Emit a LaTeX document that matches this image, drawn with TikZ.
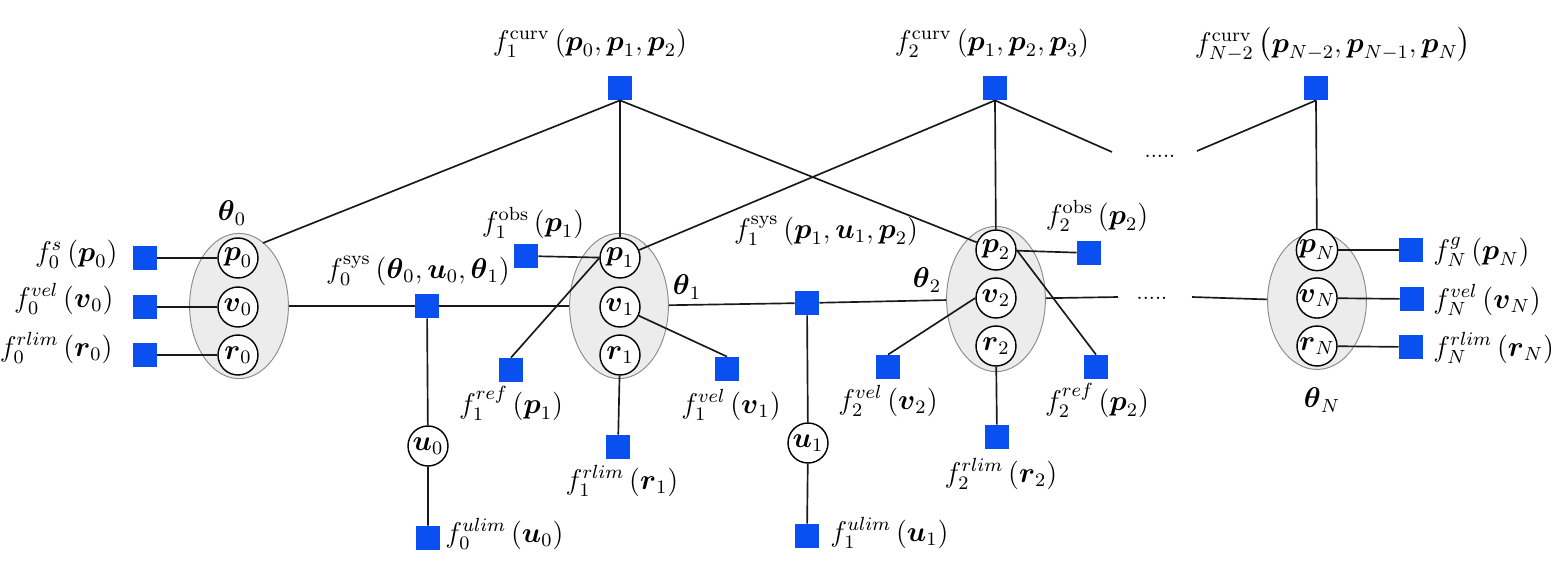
\documentclass[tikz,border=0pt]{standalone}
\usepackage{amsmath,amssymb}
\usetikzlibrary{shapes.geometric}
\definecolor{facblue}{RGB}{10,80,240}
\definecolor{ellfill}{RGB}{236,236,236}
\definecolor{ellline}{RGB}{140,140,140}
\newcommand{\bv}[1]{\boldsymbol{#1}}
\begin{document}
\begin{tikzpicture}[x=0.42pt,y=-0.42pt,
  every node/.style={font=\fontsize{12}{14}\selectfont},
  fac/.style={rectangle,fill=facblue,minimum size=10pt,inner sep=0pt},
  var/.style={circle,draw=black,line width=0.6pt,fill=white,minimum size=16.8pt,inner sep=0pt},
  grp/.style={ellipse,draw=ellline,line width=0.4pt,fill=ellfill,minimum width=41.5pt,minimum height=61pt,inner sep=0pt},
  conn/.style={draw=black!90,line width=0.7pt},
  lbl/.style={inner sep=0pt},
  dotsnode/.style={inner sep=0pt,font=\small}]
\useasboundingbox (0,0) rectangle (1555,574);
% groups
\node[grp] (th0) at (239,306) {};
\node[grp] (th1) at (619,306) {};
\node[grp] (th2) at (996,299) {};
\node[grp,minimum height=57.5pt] (thN) at (1317,301) {};
% variables
\node[var] (p0) at (238,258) {$\bv{p}_0$};
\node[var] (v0) at (238,307) {$\bv{v}_0$};
\node[var] (r0) at (238,355) {$\bv{r}_0$};
\node[var] (p1) at (620,258) {$\bv{p}_1$};
\node[var] (v1) at (620,307) {$\bv{v}_1$};
\node[var] (r1) at (620,355) {$\bv{r}_1$};
\node[var] (p2) at (996,250) {$\bv{p}_2$};
\node[var] (v2) at (996,298) {$\bv{v}_2$};
\node[var] (r2) at (996,346) {$\bv{r}_2$};
\node[var] (pN) at (1317,250) {$\bv{p}_N$};
\node[var] (vN) at (1317,298) {$\bv{v}_N$};
\node[var] (rN) at (1317,346) {$\bv{r}_N$};
\node[var] (u0) at (428,446) {$\bv{u}_0$};
\node[var] (u1) at (808,443) {$\bv{u}_1$};
% factors
\node[fac] (f0s) at (145,258) {};
\node[fac] (f0vel) at (145,307) {};
\node[fac] (f0rlim) at (145,355) {};
\node[fac] (f0sys) at (427,306) {};
\node[fac] (f0ulim) at (428,538) {};
\node[fac] (f1obs) at (526,256) {};
\node[fac] (f1ref) at (511,370) {};
\node[fac] (f1rlim) at (618,447) {};
\node[fac] (f1vel) at (727,369) {};
\node[fac] (f1sys) at (807,303) {};
\node[fac] (f1ulim) at (807,536) {};
\node[fac] (f2obs) at (1089,253) {};
\node[fac] (f2vel) at (888,367) {};
\node[fac] (f2ref) at (1096,367) {};
\node[fac] (f2rlim) at (997,437) {};
\node[fac] (fNg) at (1411,250) {};
\node[fac] (fNvel) at (1412,299) {};
\node[fac] (fNrlim) at (1411,347) {};
\node[fac] (f1c) at (620,88) {};
\node[fac] (f2c) at (995,88) {};
\node[fac] (fNc) at (1316,88) {};
% dots
\node[dotsnode,anchor=base] (dtop) at (1160,157) {.....};
\node[dotsnode,anchor=base] (dmid) at (1152,299) {.....};
\coordinate (e0) at (263,243);
\coordinate (a1) at (1112,152);
\coordinate (a2) at (1197,151);
\coordinate (b1) at (1118,297);
\coordinate (b2) at (1192,297);
% connectors
\draw[conn] (f0s) -- (p0);
\draw[conn] (f0vel) -- (v0);
\draw[conn] (f0rlim) -- (r0);
\draw[conn] (th0) -- (f0sys) -- (th1);
\draw[conn] (f0sys) -- (u0) -- (f0ulim);
\draw[conn] (f1c.south) -- (e0);
\draw[conn] (f1c.south) -- (p1);
\draw[conn] (f1c.south) -- (p2);
\draw[conn] (f2c.south) -- (p1);
\draw[conn] (f2c.south) -- (p2);
\draw[conn] (f2c.south) -- (a1);
\draw[conn] (a2) -- (fNc.south);
\draw[conn] (fNc.south) -- (pN);
\draw[conn] (f1obs) -- (p1);
\draw[conn] (p1.west) -- (f1ref.north);
\draw[conn] (v1) -- (f1vel.north);
\draw[conn] (r1) -- (f1rlim);
\draw[conn] (th1) -- (f1sys) -- (th2);
\draw[conn] (f1sys) -- (u1) -- (f1ulim);
\draw[conn] (p2) -- (f2obs);
\draw[conn] (p2.east) -- (f2ref.north);
\draw[conn] (v2.west) -- (f2vel.north);
\draw[conn] (r2) -- (f2rlim);
\draw[conn] (th2) -- (b1);
\draw[conn] (b2) -- (thN);
\draw[conn] (pN) -- (fNg);
\draw[conn] (vN) -- (fNvel);
\draw[conn] (rN) -- (fNrlim);
% labels
\node[lbl] (lth0) at (232,213) {$\bv{\theta}_0$};
\node[lbl] (lth1) at (687,287) {$\bv{\theta}_1$};
\node[lbl] (lth2) at (927,280) {$\bv{\theta}_2$};
\node[lbl] (lthN) at (1322,400) {$\bv{\theta}_N$};
\node[lbl,anchor=base east] (lf0s) at (118,261) {$f_0^{s}\left(\bv{p}_0\right)$};
\node[lbl,anchor=base east] (lf0vel) at (114,307) {$f_0^{vel}\left(\bv{v}_0\right)$};
\node[lbl,anchor=base east] (lf0rlim) at (113,356) {$f_0^{rlim}\left(\bv{r}_0\right)$};
\node[lbl,anchor=base] (lf0sys) at (418,278) {$f_0^{\mathrm{sys}}\left(\bv{\theta}_0,\bv{u}_0,\bv{\theta}_1\right)$};
\node[lbl,anchor=base west] (lf0ulim) at (445,542) {$f_0^{ulim}\left(\bv{u}_0\right)$};
\node[lbl,anchor=base] (lf1obs) at (533,231) {$f_1^{\mathrm{obs}}\left(\bv{p}_1\right)$};
\node[lbl,anchor=base] (lf1ref) at (511,413) {$f_1^{ref}\left(\bv{p}_1\right)$};
\node[lbl,anchor=base] (lf1rlim) at (622,489) {$f_1^{rlim}\left(\bv{r}_1\right)$};
\node[lbl,anchor=base] (lf1vel) at (731,413) {$f_1^{vel}\left(\bv{v}_1\right)$};
\node[lbl,anchor=base] (lf1sys) at (826,238) {$f_1^{\mathrm{sys}}\left(\bv{p}_1,\bv{u}_1,\bv{p}_2\right)$};
\node[lbl,anchor=base west] (lf1ulim) at (830,541) {$f_1^{ulim}\left(\bv{u}_1\right)$};
\node[lbl,anchor=base] (lf2obs) at (1097,224) {$f_2^{\mathrm{obs}}\left(\bv{p}_2\right)$};
\node[lbl,anchor=base] (lf2vel) at (888,409) {$f_2^{vel}\left(\bv{v}_2\right)$};
\node[lbl,anchor=base] (lf2ref) at (1097,410) {$f_2^{ref}\left(\bv{p}_2\right)$};
\node[lbl,anchor=base] (lf2rlim) at (1001,482) {$f_2^{rlim}\left(\bv{r}_2\right)$};
\node[lbl,anchor=base west] (lfNg) at (1433,259) {$f_N^{g}\left(\bv{p}_N\right)$};
\node[lbl,anchor=base west] (lfNvel) at (1433,308) {$f_N^{vel}\left(\bv{v}_N\right)$};
\node[lbl,anchor=base west] (lfNrlim) at (1433,356) {$f_N^{rlim}\left(\bv{r}_N\right)$};
\node[lbl,anchor=base] (lf1c) at (590,50) {$f_1^{\mathrm{curv}}\left(\bv{p}_0,\bv{p}_1,\bv{p}_2\right)$};
\node[lbl,anchor=base] (lf2c) at (992,50) {$f_2^{\mathrm{curv}}\left(\bv{p}_1,\bv{p}_2,\bv{p}_3\right)$};
\node[lbl,anchor=base] (lfNc) at (1333,52) {$f_{N-2}^{\mathrm{curv}}\left(\bv{p}_{N-2},\bv{p}_{N-1},\bv{p}_N\right)$};
\end{tikzpicture}
\end{document}
